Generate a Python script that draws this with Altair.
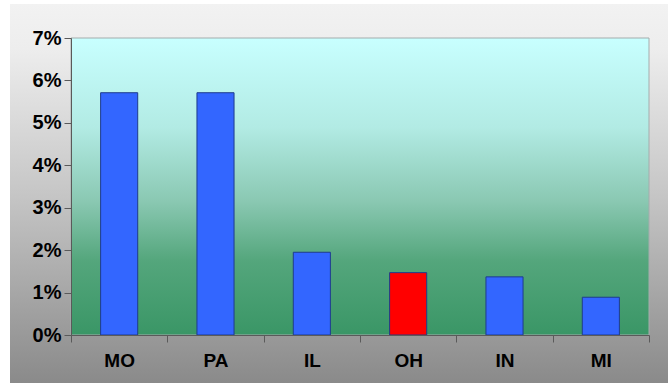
import altair as alt
import pandas as pd

# State shares (fraction) shown as bars
states = ["MO", "PA", "IL", "OH", "IN", "MI"]
shares = [0.0571, 0.0571, 0.0195, 0.0147, 0.0137, 0.0089]
bar_colors = ["#3366ff", "#3366ff", "#3366ff", "#ff0000", "#3366ff", "#3366ff"]
y_ticks = [0.0, 0.01, 0.02, 0.03, 0.04, 0.05, 0.06, 0.07]

df = pd.DataFrame({"state": states, "share": shares, "color": bar_colors})

W, H = 578, 297
PAD = {"left": 71, "top": 38, "right": 19, "bottom": 48}

one = alt.Data(values=[{}])

# grey frame behind the whole chart
frame = alt.Chart(one).mark_rect(
    color=alt.LinearGradient(
        gradient="linear", x1=0, x2=0, y1=0, y2=1,
        stops=[
            alt.GradientStop(offset=0.0, color="#f2f2f2"),
            alt.GradientStop(offset=0.12, color="#ededed"),
            alt.GradientStop(offset=0.5, color="#c6c6c6"),
            alt.GradientStop(offset=0.85, color="#9c9c9c"),
            alt.GradientStop(offset=1.0, color="#8a8a8a"),
        ],
    )
).encode(
    x=alt.value(-61), x2=alt.value(W + PAD["right"]),
    y=alt.value(-34), y2=alt.value(H + PAD["bottom"]),
)

# cyan-to-green plot background
plot_bg = alt.Chart(one).mark_rect(
    color=alt.LinearGradient(
        gradient="linear", x1=0, x2=0, y1=0, y2=1,
        stops=[
            alt.GradientStop(offset=0.0, color="#c8ffff"),
            alt.GradientStop(offset=0.3, color="#b2ebe4"),
            alt.GradientStop(offset=0.55, color="#8ac8b2"),
            alt.GradientStop(offset=0.75, color="#54a67c"),
            alt.GradientStop(offset=1.0, color="#3a9666"),
        ],
    ),
    stroke="#a4acac", strokeWidth=1,
).encode(
    x=alt.value(0), x2=alt.value(W), y=alt.value(0), y2=alt.value(H),
)

bars = alt.Chart(df).mark_bar(
    stroke="#1f3c8c", strokeWidth=1, width=alt.RelativeBandSize(0.385)
).encode(
    x=alt.X(
        "state:N", sort=None, title=None,
        scale=alt.Scale(paddingInner=0, paddingOuter=0),
        axis=alt.Axis(
            labelAngle=0, tickBand="extent", tickSize=7, labelPadding=9,
            labelFont="Liberation Sans", labelFontWeight="bold", labelFontSize=19,
            labelColor="#000000", domainColor="#5a5a5a", tickColor="#5a5a5a",
            grid=False, zindex=1,
        ),
    ),
    y=alt.Y(
        "share:Q", title=None,
        scale=alt.Scale(domain=[0, 0.07], nice=False),
        axis=alt.Axis(
            values=y_ticks, format=".0%", tickSize=7, labelPadding=3,
            labelFont="Liberation Sans", labelFontWeight="bold", labelFontSize=20,
            labelColor="#000000", domainColor="#5a5a5a", tickColor="#5a5a5a",
            grid=False, zindex=1,
        ),
    ),
    color=alt.Color("color:N", scale=None, legend=None),
)

chart = alt.layer(frame, plot_bg, bars).properties(
    width=W, height=H,
    autosize=alt.AutoSizeParams(type="none"),
    padding=PAD,
    background="#ffffff",
).configure_view(stroke=None)

chart.save("out.html", embed_options={"renderer": "svg", "actions": False})
